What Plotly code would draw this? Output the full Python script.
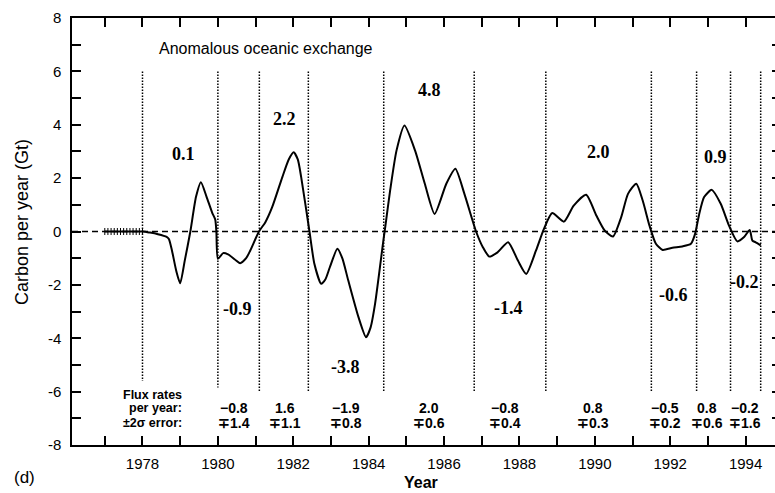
import plotly.graph_objects as go

# Anomalous oceanic carbon exchange (Gt C per year)
lead_years = [1977.0, 1977.083, 1977.167, 1977.25, 1977.333, 1977.417, 1977.5,
              1977.583, 1977.667, 1977.75, 1977.833, 1977.917, 1978.0]
lead_values = [0.0] * len(lead_years)

years = [1978.00, 1978.20, 1978.41, 1978.64, 1978.70, 1978.78, 1978.90, 1979.00,
         1979.12, 1979.27, 1979.42, 1979.55, 1979.70, 1979.85, 1979.93, 1979.96,
         1980.00, 1980.14, 1980.27, 1980.45, 1980.59, 1980.75, 1980.86, 1981.09,
         1981.26, 1981.44, 1981.71, 1981.88, 1982.01, 1982.12, 1982.21, 1982.43,
         1982.56, 1982.74, 1982.85, 1982.97, 1983.17, 1983.30, 1983.46, 1983.73,
         1983.93, 1984.05, 1984.17, 1984.39, 1984.44, 1984.57, 1984.74, 1984.95,
         1985.23, 1985.49, 1985.75, 1986.06, 1986.30, 1986.54, 1986.85, 1987.03,
         1987.20, 1987.42, 1987.70, 1987.96, 1988.18, 1988.44, 1988.65, 1988.87,
         1989.18, 1989.44, 1989.77, 1990.04, 1990.26, 1990.48, 1990.70, 1990.88,
         1991.10, 1991.27, 1991.45, 1991.62, 1991.80, 1992.06, 1992.32, 1992.55,
         1992.66, 1992.77, 1992.90, 1993.10, 1993.34, 1993.56, 1993.78, 1993.96,
         1994.11, 1994.18, 1994.26, 1994.40]
values = [0.00, -0.04, -0.10, -0.20, -0.28, -0.70, -1.50, -1.94,
          -1.10, 0.00, 1.30, 1.85, 1.30, 0.70, 0.45, 0.00,
          -1.02, -0.81, -0.86, -1.05, -1.19, -1.00, -0.71, 0.00,
          0.35, 0.91, 2.04, 2.70, 2.97, 2.70, 2.04, 0.00,
          -1.21, -1.96, -1.80, -1.34, -0.65, -1.00, -1.84, -3.21,
          -3.96, -3.60, -2.71, -0.34, 0.16, 1.54, 3.04, 3.97,
          3.04, 1.79, 0.66, 1.79, 2.35, 1.41, 0.00, -0.59,
          -0.94, -0.78, -0.40, -1.09, -1.59, -0.71, 0.10, 0.69,
          0.37, 0.97, 1.38, 0.60, 0.04, -0.19, 0.54, 1.41,
          1.79, 1.16, 0.22, -0.46, -0.69, -0.61, -0.56, -0.46,
          -0.09, 0.66, 1.29, 1.56, 1.04, 0.22, -0.37, -0.21,
          0.06, -0.34, -0.40, -0.52]

# Interval boundaries (vertical dotted lines) and their lower ends
boundary_years = [1978.0, 1980.0, 1981.1, 1982.4, 1984.4, 1986.8,
                  1988.7, 1991.5, 1992.7, 1993.6, 1994.4]
boundary_top = [6.0] * len(boundary_years)
boundary_bottom = [-5.6, -5.85, -6.0, -6.0, -6.0, -6.0, -6.0, -6.0, -6.0, -6.0, -6.0]

# Integrated anomaly per interval
seg_labels = ["0.1", "-0.9", "2.2", "-3.8", "4.8", "-1.4", "2.0", "-0.6", "0.9", "-0.2"]
seg_label_x = [1979.08, 1980.52, 1981.76, 1983.38, 1985.61, 1987.72, 1990.10, 1992.10, 1993.19, 1993.98]
seg_label_y = [2.90, -2.91, 4.22, -5.07, 5.30, -2.88, 2.99, -2.38, 2.80, -1.88]

# Flux rates per year and their 2-sigma errors
flux_rates = ["\u22120.8", "1.6", "\u22121.9", "2.0", "\u22120.8", "0.8", "\u22120.5", "0.8", "\u22120.2"]
flux_errors = ["\u22131.4", "\u22131.1", "\u22130.8", "\u22130.6", "\u22130.4", "\u22130.3", "\u22130.2", "\u22130.6", "\u22131.6"]
flux_x = [1980.43, 1981.78, 1983.39, 1985.61, 1987.62, 1989.96, 1991.87, 1992.97, 1993.98]

x_ticks = [1978, 1980, 1982, 1984, 1986, 1988, 1990, 1992, 1994]
y_ticks = [-8, -6, -4, -2, 0, 2, 4, 6, 8]
y_tick_text = ["-8", "-6", "-4", "-2", "0", "2", "4", "6", "8"]

fig = go.Figure()

# dotted interval boundaries
bx, by = [], []
for x0, y0, y1 in zip(boundary_years, boundary_top, boundary_bottom):
    bx += [x0, x0, None]
    by += [y0, y1, None]
fig.add_trace(go.Scatter(x=bx, y=by, mode="lines",
                         line=dict(color="black", width=1.5, dash="1.5px,1.5px"),
                         hoverinfo="skip", showlegend=False))

fig.add_hline(y=0, line=dict(color="black", width=1.5, dash="6px,4px"), layer="below")

# flat lead-in
fig.add_trace(go.Scatter(x=lead_years, y=lead_values, mode="lines+markers",
                         line=dict(color="black", width=2),
                         marker=dict(symbol="line-ns", size=5, line=dict(width=1, color="black")),
                         hoverinfo="skip", showlegend=False))

# anomaly curve
fig.add_trace(go.Scatter(x=years, y=values, mode="lines",
                         line=dict(color="black", width=2, shape="spline", smoothing=0.6),
                         showlegend=False))

# carrier for the right-hand tick marks
fig.add_trace(go.Scatter(x=years[:1], y=values[:1], mode="markers", yaxis="y2",
                         marker=dict(opacity=0), hoverinfo="skip", showlegend=False))

serif = "Liberation Serif"
sans = "Liberation Sans"

for t, x, y in zip(seg_labels, seg_label_x, seg_label_y):
    fig.add_annotation(x=x, y=y, text="<b>%s</b>" % t, showarrow=False,
                       font=dict(family=serif, size=18, color="black"))

for r, e, x in zip(flux_rates, flux_errors, flux_x):
    fig.add_annotation(x=x, y=-6.61, text="<b>%s</b>" % r, showarrow=False,
                       font=dict(family=sans, size=14, color="black"))
    fig.add_annotation(x=x, y=-7.16, text="<b>%s</b>" % e, showarrow=False,
                       font=dict(family=sans, size=14, color="black"))

for t, y in zip(["Flux rates", "per year:", "\u00b12\u03c3 error:"], [-6.13, -6.61, -7.16]):
    fig.add_annotation(x=1979.1, y=y, text="<b>%s</b>" % t, showarrow=False,
                       xanchor="right", font=dict(family=sans, size=12.5, color="black"))

fig.add_annotation(x=1981.28, y=6.87, text="Anomalous oceanic exchange", showarrow=False,
                   font=dict(family=sans, size=16, color="black"))

fig.add_annotation(xref="paper", yref="paper", x=-0.0711, y=0.522,
                   xanchor="center", yanchor="middle",
                   text="Carbon per year (Gt)", textangle=-90, showarrow=False,
                   font=dict(family=sans, size=18, color="black"))
fig.add_annotation(xref="paper", yref="paper", x=0.4964, y=-0.088,
                   xanchor="center", yanchor="middle", text="<b>Year</b>",
                   showarrow=False, font=dict(family=sans, size=16, color="black"))
fig.add_annotation(xref="paper", yref="paper", x=-0.067, y=-0.075,
                   xanchor="center", yanchor="middle", text="(d)",
                   showarrow=False, font=dict(family=sans, size=17, color="black"))

fig.update_layout(
    width=775, height=493,
    margin=dict(l=72, r=0, t=18, b=48),
    paper_bgcolor="white", plot_bgcolor="white",
    font=dict(family=sans, color="black"),
    xaxis=dict(range=[1976.13, 1994.78], tickvals=x_ticks, ticks="inside", ticklen=9,
               tickwidth=1.5, tickcolor="black", showline=True, linewidth=1.5,
               linecolor="black", mirror="ticks", showgrid=False, zeroline=False,
               tickfont=dict(size=15), ticklabelstandoff=4,
               minor=dict(dtick=1, tick0=1977, ticks="inside", ticklen=9,
                          tickwidth=1.5, tickcolor="black", showgrid=False)),
    yaxis=dict(range=[-8, 8], tickvals=y_ticks, ticktext=y_tick_text, ticks="inside",
               ticklen=9, tickwidth=1.5, tickcolor="black", showline=True, linewidth=1.5,
               linecolor="black", showgrid=False, zeroline=False,
               tickfont=dict(size=15), ticklabelstandoff=6,
               minor=dict(dtick=1, tick0=-7, ticks="inside", ticklen=9,
                          tickwidth=1.5, tickcolor="black", showgrid=False)),
    yaxis2=dict(range=[-8, 8], overlaying="y", side="right", dtick=1, ticks="inside",
                ticklen=3, tickwidth=1.5, tickcolor="black", showticklabels=False,
                showline=False, showgrid=False, zeroline=False),
)

fig.write_html("out.html")
